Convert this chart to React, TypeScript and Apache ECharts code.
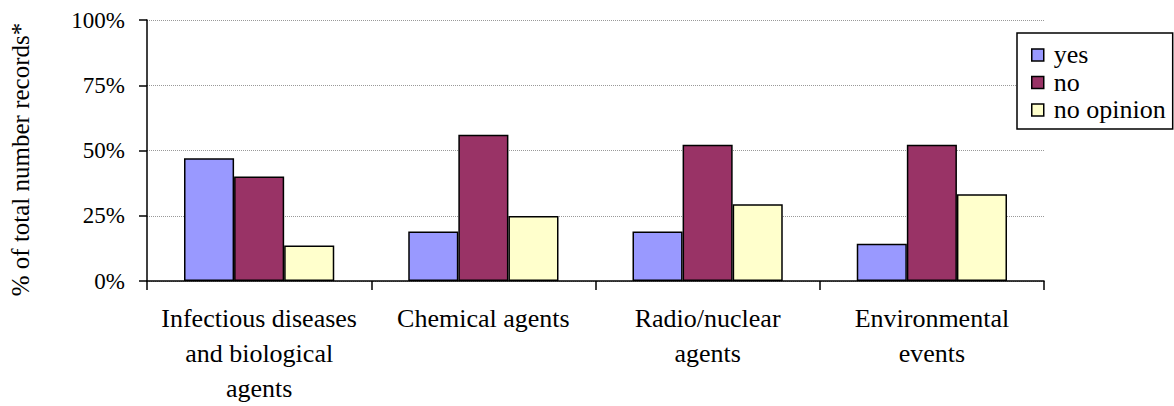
import React, { useEffect, useRef } from "react";
import * as echarts from "echarts";

const categories = [
  "Infectious diseases\nand biological\nagents",
  "Chemical agents",
  "Radio/nuclear\nagents",
  "Environmental\nevents",
];
const yesValues = [47, 19, 19, 14.3];
const noValues = [40, 56, 52.2, 52.2];
const noOpinionValues = [13.6, 24.9, 29.4, 33.2];
const seriesNames = ["yes", "no", "no opinion"];
const seriesColors = ["#9999FF", "#993366", "#FFFFCC"];
const yTicks = [0, 25, 50, 75, 100];

const FONT = "Liberation Serif, DejaVu Serif";

export default function App() {
  const ref = useRef<HTMLDivElement>(null);
  useEffect(() => {
    if (!ref.current) return;
    const chart = echarts.init(ref.current, null, { renderer: "svg" });
    const values = [yesValues, noValues, noOpinionValues];
    chart.setOption({
      animation: false,
      backgroundColor: "#ffffff",
      textStyle: { fontFamily: FONT, color: "#000", fontSize: 24 },
      grid: { left: 146, right: 130, top: "4.93%", bottom: "29.8%" },
      legend: {
        orient: "vertical",
        left: 1017,
        top: "8.1%",
        padding: [8.25, 7, 5.25, 14],
        borderColor: "#000",
        borderWidth: 1.5,
        backgroundColor: "#fff",
        icon: "rect",
        itemWidth: 12,
        itemHeight: 12,
        itemGap: 0,
        itemStyle: { borderColor: "#000", borderWidth: 1.5 },
        textStyle: { fontFamily: FONT, fontSize: 26, color: "#000", lineHeight: 27.5, padding: [0, 0, 0, 5] },
        data: seriesNames,
      },
      xAxis: {
        type: "category",
        data: categories,
        axisLine: { lineStyle: { color: "#000", width: 1.5 } },
        axisTick: { show: true, length: 9, lineStyle: { color: "#000", width: 1.5 } },
        axisLabel: {
          fontFamily: FONT,
          fontSize: 26,
          color: "#000",
          lineHeight: 35,
          margin: 20,
          interval: 0,
        },
      },
      yAxis: {
        type: "value",
        min: yTicks[0],
        max: yTicks[yTicks.length - 1],
        interval: 25,
        name: "% of total number records*",
        nameLocation: "middle",
        nameRotate: 90,
        nameGap: 114,
        nameTextStyle: { fontFamily: FONT, fontSize: 25, color: "#000", padding: [0, 18, 0, 0] },
        axisLine: { show: true, lineStyle: { color: "#000", width: 1.5 } },
        axisTick: { show: true, length: 8, lineStyle: { color: "#000", width: 1.5 } },
        axisLabel: {
          fontFamily: FONT,
          fontSize: 23,
          color: "#000",
          margin: 22,
          formatter: "{value}%",
        },
        splitLine: { show: true, lineStyle: { color: "#999", width: 1, type: [1, 1] } },
      },
      series: seriesNames.map((name, i) => ({
        name,
        type: "bar",
        data: values[i],
        barGap: "0%",
        barCategoryGap: "33%",
        itemStyle: { color: seriesColors[i], borderColor: "#000", borderWidth: 1.5 },
      })),
    });
    const onResize = () => chart.resize();
    window.addEventListener("resize", onResize);
    return () => {
      window.removeEventListener("resize", onResize);
      chart.dispose();
    };
  }, []);
  return (
    <div
      ref={ref}
      style={{ position: "fixed", left: 0, top: 0, width: "100vw", height: "100vh" }}
    />
  );
}
